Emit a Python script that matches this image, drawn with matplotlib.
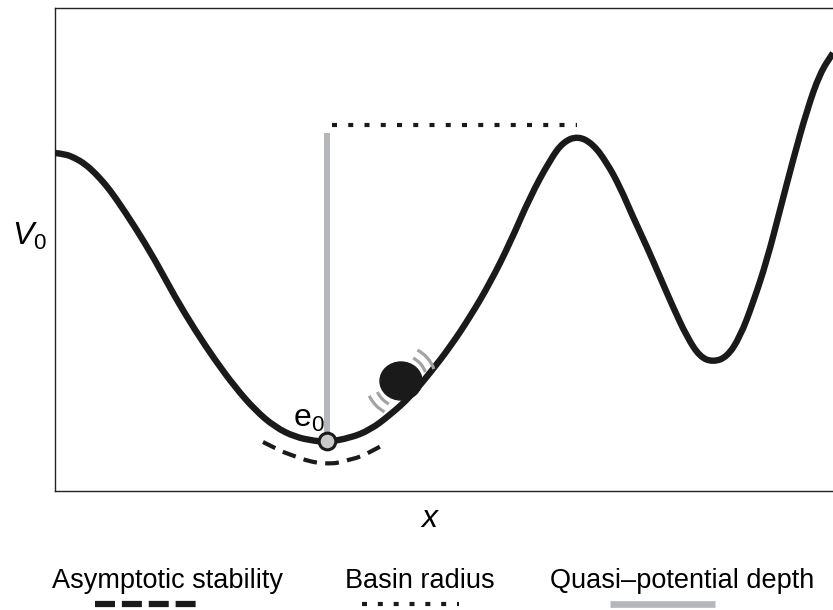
import numpy as np
import matplotlib
matplotlib.use("Agg")
import matplotlib.pyplot as plt
from matplotlib.patches import Ellipse, Arc, PathPatch
from matplotlib.path import Path
from matplotlib.lines import Line2D

plt.rcParams['font.family'] = ['Liberation Sans', 'DejaVu Sans']
plt.rcParams['mathtext.fontset'] = 'custom'
plt.rcParams['mathtext.rm'] = 'Liberation Sans'
plt.rcParams['mathtext.it'] = 'Liberation Sans:italic'

# potential landscape V(x) (arbitrary units)
pot_x = [0.00, 0.10, 0.20, 0.30, 0.40, 0.50, 0.60, 0.80, 1.00, 1.20, 1.40, 1.60, 1.80, 2.00, 2.20,
         2.40, 2.60, 2.72, 2.95, 3.15, 3.35, 3.55, 3.75, 3.95, 4.15, 4.35, 4.55,
         4.75, 4.95, 5.08, 5.23, 5.38, 5.52, 5.65, 5.78, 5.92, 6.05, 6.18, 6.32,
         6.45, 6.58, 6.72, 6.85, 6.98, 7.12, 7.25, 7.38, 7.52, 7.65, 7.78]
pot_y = [3.38, 3.37, 3.33, 3.27, 3.18, 3.07, 2.94, 2.64, 2.31, 1.94, 1.61, 1.31, 1.04, 0.81, 0.64,
         0.54, 0.50, 0.49, 0.53, 0.61, 0.76, 0.94, 1.18, 1.44, 1.74, 2.08, 2.48,
         2.94, 3.31, 3.49, 3.55, 3.47, 3.28, 3.04, 2.74, 2.44, 2.14, 1.84, 1.54,
         1.34, 1.29, 1.34, 1.54, 1.88, 2.31, 2.81, 3.31, 3.81, 4.18, 4.38]

# equilibrium e0 and the levels used for the measures
eq_x, eq_y = 2.72, 0.50
depth_top = 3.58
radius_level = 3.66
radius_x = [2.77, 5.22]

# asymptotic stability arc below the well
stab_x = [2.08, 2.20, 2.28, 2.42, 2.50, 2.63, 2.73, 2.83, 2.93, 3.05, 3.15, 3.28]
stab_y = [0.49, 0.43, 0.39, 0.34, 0.31, 0.28, 0.275, 0.28, 0.31, 0.34, 0.39, 0.46]

# ball
ball_x, ball_y = 3.46, 1.10

legend_labels = ['Asymptotic stability', 'Basin radius', 'Quasi\u2013potential depth']


def smooth_path(xs, ys):
    # quadratic bezier through midpoints, points act as control points
    pts = np.column_stack([xs, ys])
    verts = [pts[0]]
    codes = [Path.MOVETO]
    for i in range(1, len(pts) - 1):
        mid = (pts[i] + pts[i + 1]) / 2
        verts += [pts[i], mid]
        codes += [Path.CURVE3, Path.CURVE3]
    verts.append(pts[-1])
    codes.append(Path.LINETO)
    return Path(verts, codes)


fig = plt.figure(figsize=(8.33, 6.10), dpi=100)
ax = fig.add_axes([55 / 833, 119 / 610, 778 / 833, 483 / 610])
ax.set_xlim(0, 7.78)
ax.set_ylim(0, 4.83)
ax.set_xticks([])
ax.set_yticks([])
for s in ['left', 'top', 'bottom']:
    ax.spines[s].set_linewidth(1.0)
    ax.spines[s].set_color('#222222')
ax.spines['right'].set_visible(False)

grey = '#b5b6b9'

# quasi-potential depth
ax.plot([eq_x, eq_x], [eq_y, depth_top], color=grey, lw=4.3, solid_capstyle='butt', zorder=2)
# basin radius
ax.plot(radius_x, [radius_level, radius_level], color='#1a1a1a', lw=3.0,
        dashes=(1.2, 2.7), dash_capstyle='butt', zorder=2)
# landscape
ax.add_patch(PathPatch(smooth_path(pot_x, pot_y), facecolor='none', edgecolor='#1a1a1a',
                       lw=4.6, joinstyle='round', capstyle='butt', zorder=3))
# asymptotic stability
stab = PathPatch(smooth_path(stab_x, stab_y), facecolor='none', edgecolor='#1a1a1a',
                 lw=3.0, capstyle='butt', zorder=3)
stab.set_linestyle((0, (3.3, 2.0)))
ax.add_patch(stab)
# equilibrium point
ax.plot([eq_x], [eq_y], 'o', ms=12, mfc='#c9c9c9', mec='#1a1a1a', mew=2.2, zorder=5)
ax.text(2.38, 0.64, r'$\mathrm{e}_0$', fontsize=23, ha='left', va='baseline')

# ball and vibration arcs
ax.add_patch(Ellipse((ball_x, ball_y), 0.42, 0.38, color='#1a1a1a', zorder=4))
for r in [0.26, 0.35]:
    ax.add_patch(Arc((ball_x, ball_y), 2 * r, 2 * r, theta1=20, theta2=62,
                     color='#a3a3a3', lw=2.3, zorder=4))
    ax.add_patch(Arc((ball_x, ball_y), 2 * r, 2 * r, theta1=205, theta2=242,
                     color='#a3a3a3', lw=2.3, zorder=4))

# axis labels
fig.text(12 / 833, (610 - 245) / 610, r'$V_0$', fontsize=23, ha='left', va='baseline')
fig.text(430 / 833, (610 - 527) / 610, r'$x$', fontsize=23, ha='center', va='baseline')

# legend underneath
text_cx = [168, 420, 682]
for lab, cx in zip(legend_labels, text_cx):
    fig.text(cx / 833, (610 - 588) / 610, lab, fontsize=19.5, ha='center', va='baseline')

ly = 6 / 610
fig.add_artist(Line2D([95 / 833, 197 / 833], [ly, ly], color='#1a1a1a', lw=4.5,
                      dashes=(3.2, 1.1), dash_capstyle='butt'))
fig.add_artist(Line2D([362 / 833, 459 / 833], [ly, ly], color='#1a1a1a', lw=3.0,
                      dashes=(1.2, 2.6), dash_capstyle='butt'))
fig.add_artist(Line2D([610 / 833, 715 / 833], [ly, ly], color=grey, lw=4.8,
                      solid_capstyle='butt'))

fig.savefig('out.png', dpi=100)
